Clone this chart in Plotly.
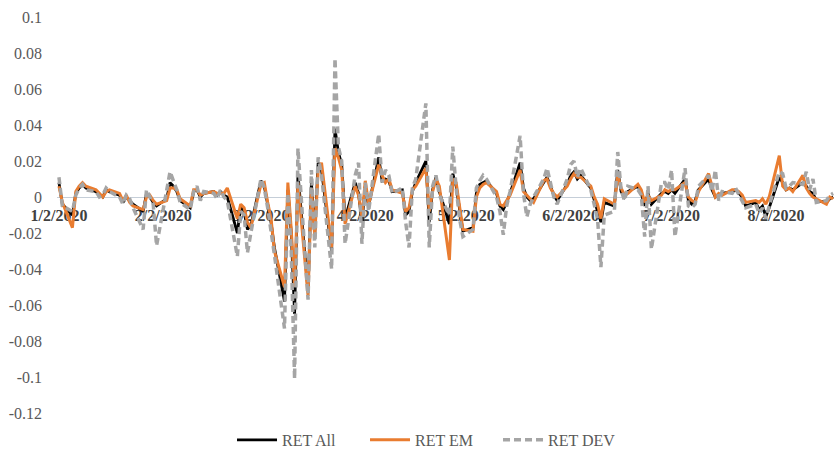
import pandas as pd
import plotly.graph_objects as go

# Daily returns, weekdays 2 Jan 2020 - 19 Aug 2020
ret_all = [
    # Jan
    0.008, -0.004, -0.010, 0.002, 0.005, 0.007, 0.005, 0.003, 0.001, 0.000, 0.004, 0.003, 0.001, -0.003, 0.000, -0.002, -0.004, -0.008, 0.002, 0.000, -0.003, -0.005,
    # Feb
    -0.001, 0.008, 0.006, 0.003, -0.002, -0.006, 0.003, 0.004, 0.000, 0.002, 0.003, 0.001, 0.003, 0.001, 0.000, -0.020, -0.005, -0.008, -0.018, -0.016,
    # Mar
    0.009, 0.006, -0.005, -0.014, -0.028, -0.058, 0.004, -0.020, -0.065, 0.013, -0.052, 0.008, -0.020, 0.019, 0.015, -0.030, 0.038, 0.025, 0.018, -0.012, 0.008, 0.002,
    # Apr
    -0.014, 0.006, -0.005, 0.022, 0.009, 0.010, 0.009, 0.003, 0.004, -0.010, -0.008, 0.003, 0.008, 0.020, -0.014, 0.004, 0.011, 0.003, -0.015, 0.013, 0.006, -0.008,
    # May
    -0.019, -0.017, 0.002, 0.007, 0.008, 0.009, 0.002, -0.005, -0.007, -0.003, 0.002, 0.019, 0.005, 0.000, -0.002, -0.001, 0.008, 0.011, 0.006, 0.001, -0.002,
    # Jun
    0.007, 0.012, 0.014, 0.010, 0.012, 0.005, -0.002, -0.008, -0.014, -0.003, -0.005, 0.015, 0.003, 0.000, 0.003, 0.006, 0.002, -0.005, 0.002, -0.004, 0.002, 0.003,
    # Jul
    0.002, 0.004, 0.002, 0.010, -0.002, -0.004, -0.002, 0.004, 0.010, 0.004, 0.000, 0.001, 0.002, 0.003, 0.004, 0.002, 0.000, -0.005, -0.003, -0.007, -0.005, -0.011, -0.006,
    # Aug
    0.011, 0.008, 0.004, 0.005, 0.004, 0.008, 0.006, 0.003, 0.002, -0.002, -0.003, -0.001, 0.000,
]

ret_em = [
    0.006, -0.003, -0.017, 0.003, 0.006, 0.008, 0.006, 0.004, 0.002, 0.000, 0.003, 0.004, 0.002, -0.002, 0.001, -0.003, -0.005, -0.007, 0.000, 0.001, -0.002, -0.004,
    -0.002, 0.005, 0.005, 0.004, -0.001, -0.005, 0.004, 0.004, 0.001, 0.002, 0.003, 0.002, 0.002, 0.002, 0.005, -0.012, -0.004, -0.006, -0.014, -0.017,
    0.007, 0.008, -0.003, -0.012, -0.030, -0.050, 0.008, -0.018, -0.050, 0.008, -0.055, 0.005, -0.022, 0.015, 0.019, -0.028, 0.027, 0.022, 0.015, -0.015, 0.006, 0.001,
    -0.011, 0.009, -0.004, 0.018, 0.012, 0.008, 0.010, 0.004, 0.002, -0.008, -0.006, 0.004, 0.006, 0.016, -0.008, 0.003, 0.010, 0.006, -0.035, 0.010, 0.008, -0.006,
    -0.018, -0.019, 0.000, 0.005, 0.007, 0.008, 0.003, -0.004, -0.005, -0.002, 0.001, 0.015, 0.003, 0.001, -0.001, -0.003, 0.009, 0.010, 0.005, 0.002, 0.000,
    0.006, 0.010, 0.013, 0.011, 0.011, 0.006, 0.000, -0.004, -0.012, -0.001, -0.004, 0.012, 0.005, 0.001, 0.002, 0.007, 0.004, -0.003, 0.001, -0.002, 0.001, 0.004,
    0.003, 0.004, 0.004, 0.008, 0.000, -0.002, -0.003, 0.003, 0.013, 0.006, 0.000, 0.002, 0.001, 0.004, 0.004, 0.003, 0.001, -0.003, -0.002, -0.003, -0.001, -0.004, 0.000,
    0.023, 0.006, 0.004, 0.005, 0.003, 0.012, 0.005, 0.002, 0.000, -0.001, -0.004, 0.000, -0.001,
]

ret_dev = [
    0.011, -0.005, -0.008, 0.001, 0.005, 0.007, 0.004, 0.003, 0.000, 0.001, 0.005, 0.003, 0.000, -0.004, 0.001, -0.001, -0.006, -0.018, 0.004, 0.000, -0.004, -0.027,
    0.002, 0.014, 0.009, 0.004, -0.003, -0.007, 0.003, 0.006, -0.002, 0.003, 0.002, -0.001, 0.004, 0.000, -0.002, -0.033, -0.008, -0.010, -0.031, -0.020,
    0.010, 0.005, -0.006, -0.018, -0.032, -0.073, 0.002, -0.030, -0.101, 0.027, -0.057, 0.015, -0.028, 0.022, 0.012, -0.040, 0.077, 0.028, 0.020, -0.026, 0.012, 0.019,
    -0.026, 0.008, -0.008, 0.035, 0.008, 0.015, 0.012, 0.002, 0.005, -0.014, -0.028, 0.005, 0.010, 0.052, -0.028, 0.006, 0.012, 0.001, -0.010, 0.028, 0.005, -0.012,
    -0.022, -0.018, 0.005, 0.009, 0.012, 0.010, 0.000, -0.008, -0.021, -0.005, 0.003, 0.034, 0.002, -0.011, -0.004, 0.000, 0.010, 0.016, 0.008, 0.000, -0.004,
    0.010, 0.018, 0.020, 0.011, 0.016, 0.004, -0.005, -0.012, -0.039, -0.010, -0.008, 0.025, 0.004, -0.002, 0.006, 0.004, 0.001, -0.022, 0.006, -0.029, 0.008, 0.008,
    0.004, 0.015, -0.022, 0.016, -0.005, -0.006, -0.004, 0.006, 0.012, 0.003, 0.015, -0.002, 0.003, 0.002, 0.005, 0.001, -0.002, -0.006, -0.004, -0.009, -0.006, -0.012, -0.005,
    0.014, 0.013, 0.005, 0.006, 0.008, 0.007, 0.014, 0.004, 0.010, -0.003, -0.002, 0.001, 0.002,
]

dates = pd.bdate_range("2020-01-02", periods=len(ret_all))

tick_dates = ["2020-01-02", "2020-02-02", "2020-03-02", "2020-04-02",
              "2020-05-02", "2020-06-02", "2020-07-02", "2020-08-02"]
tick_labels = ["1/2/2020", "2/2/2020", "3/2/2020", "4/2/2020",
               "5/2/2020", "6/2/2020", "7/2/2020", "8/2/2020"]

y_ticks = [0.1, 0.08, 0.06, 0.04, 0.02, 0, -0.02, -0.04, -0.06, -0.08, -0.1, -0.12]
y_labels = ["0.1", "0.08", "0.06", "0.04", "0.02", "0", "-0.02", "-0.04",
            "-0.06", "-0.08", "-0.1", "-0.12"]

fig = go.Figure()
fig.add_trace(go.Scatter(x=dates, y=ret_all, mode="lines", name="RET All",
                         line=dict(color="#000000", width=2.8)))
fig.add_trace(go.Scatter(x=dates, y=ret_em, mode="lines", name="RET EM",
                         line=dict(color="#E97C30", width=3)))
fig.add_trace(go.Scatter(x=dates, y=ret_dev, mode="lines", name="RET DEV",
                         line=dict(color="#A5A5A5", width=3.5, dash="7px,4px")))

y_min, y_max = -0.12, 0.1
zero_pos = (0 - y_min) / (y_max - y_min)

fig.update_layout(
    width=834, height=453,
    margin=dict(l=57, r=0, t=17, b=40, autoexpand=False),
    paper_bgcolor="white", plot_bgcolor="white",
    font=dict(family="Liberation Serif", color="#595959", size=16),
    showlegend=True,
    legend=dict(orientation="h", x=0.482, xanchor="center", y=-0.068, yanchor="middle",
                font=dict(family="Liberation Serif", size=16, color="#595959"),
                entrywidth=78, entrywidthmode="pixels", itemwidth=40,
                bgcolor="rgba(0,0,0,0)"),
    xaxis=dict(
        type="date",
        range=["2020-01-01 10:00", "2020-08-19 06:00"],
        anchor="free", position=zero_pos,
        tickvals=tick_dates, ticktext=tick_labels,
        tickfont=dict(family="Liberation Serif", size=16, color="#404040", weight="bold"),
        showgrid=False, showline=False, zeroline=False, ticks="",
        ticklabelstandoff=7,
        layer="below traces",
    ),
    yaxis=dict(
        range=[y_min, y_max],
        tickvals=y_ticks, ticktext=y_labels,
        tickfont=dict(family="Liberation Serif", size=16, color="#595959"),
        showgrid=False, showline=False, ticks="",
        zeroline=True, zerolinecolor="#C5CED8", zerolinewidth=1,
        ticklabelstandoff=14,
    ),
)

fig.write_html(
    "out.html",
    config={"displayModeBar": False},
    post_script="document.body.style.margin='0';document.body.style.overflow='hidden';",
)
